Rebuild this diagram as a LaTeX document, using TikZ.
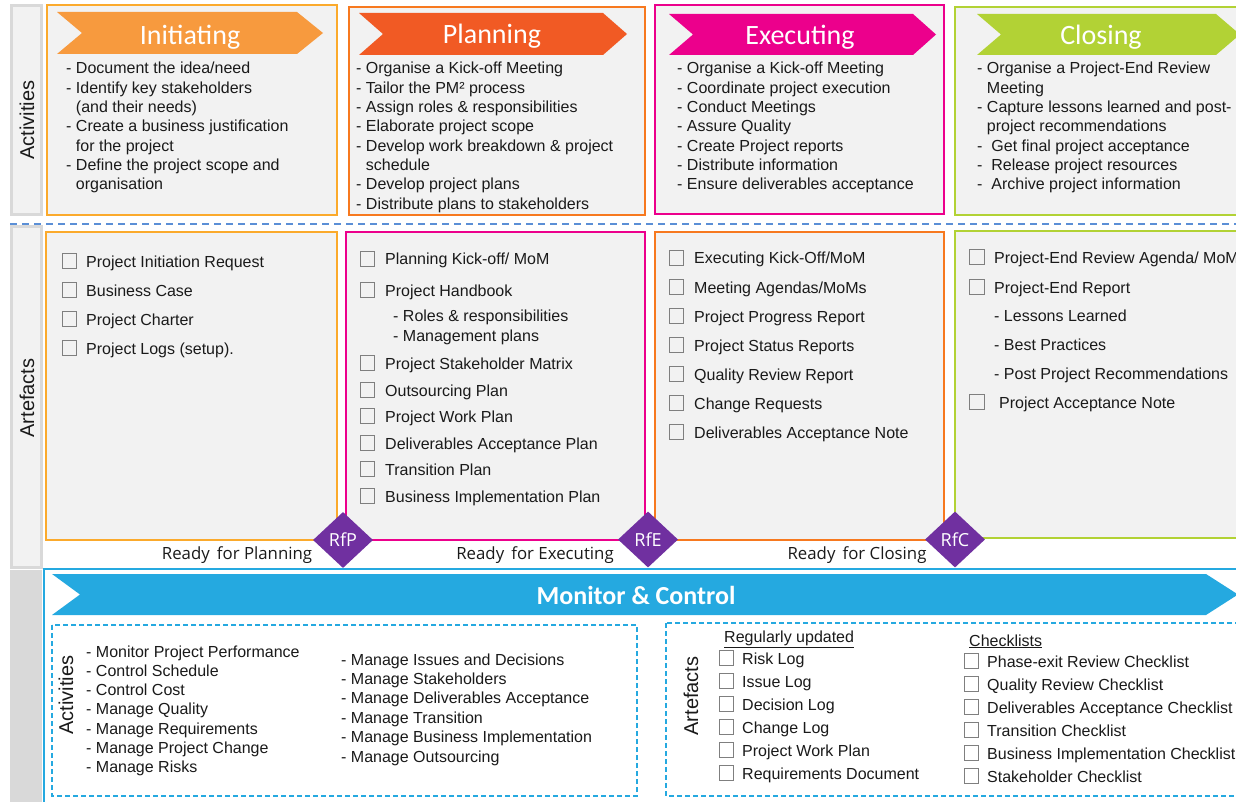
\documentclass[tikz,border=0pt]{standalone}
\usepackage{fontspec}
\setmainfont{Liberation Sans}
\newfontfamily\headfont{Carlito}
\newfontfamily\segfont{Open Sans}
\usetikzlibrary{shapes.geometric}
\definecolor{cInit}{HTML}{F79A3E}
\definecolor{cInitB}{HTML}{FBAA2C}
\definecolor{cPlan}{HTML}{F15A24}
\definecolor{cPlanB}{HTML}{F7791F}
\definecolor{cExec}{HTML}{EC008C}
\definecolor{cClose}{HTML}{B2D235}
\definecolor{cMC}{HTML}{25A9E0}
\definecolor{cDia}{HTML}{7030A0}
\definecolor{cBg}{HTML}{F2F2F2}
\definecolor{cStrip}{HTML}{D9D9D9}
\definecolor{cDash}{HTML}{5B8FD6}
\definecolor{cChk}{HTML}{7F7F7F}
\definecolor{tc}{HTML}{1A1A1A}
\begin{document}
\begin{tikzpicture}[x=1pt,y=-1pt,
  txt/.style={anchor=base west, inner sep=0pt, font=\fontsize{16}{19}\selectfont, text=tc},
  chk/.style={draw=cChk, line width=1pt, minimum size=14.5pt, inner sep=0pt},
  actbox/.style={fill=cBg, line width=2pt},
  chevtext/.style={text=white, font=\headfont\fontsize{28}{28}\selectfont, inner sep=0pt, anchor=base},
  rdy/.style={font=\segfont\fontsize{16.8}{17}\selectfont, text=tc, inner sep=0pt, anchor=base},
  dia/.style={diamond, fill=cDia, text=white, minimum width=60pt, minimum height=56pt, inner sep=0pt, font=\segfont\fontsize{18}{18}\selectfont},
  vlab/.style={rotate=90, font=\fontsize{20}{20}\selectfont, text=tc, inner sep=0pt},
  mcdash/.style={draw=cMC, dash pattern=on 5pt off 3pt, line width=1.3pt}
]
\useasboundingbox (0,0) rectangle (1236,802);
\fill[white] (0,0) rectangle (1236,802);

% left strips
\draw[cStrip, line width=3pt, fill=cBg] (11.5,5.5) rectangle (41.5,214.5);
\draw[cStrip, line width=3pt, fill=cBg] (11.5,226.5) rectangle (41.5,567);
\fill[cStrip] (10,570) rectangle (42,802);
\node[vlab] (actlab) at (27,120) {Activities};
\node[vlab] (artlab) at (27,398) {Artefacts};

% dashed separator
\draw[cDash, line width=1.5pt, dash pattern=on 7pt off 5pt] (10,224) -- (1236,224);

% activity boxes
\draw[actbox, draw=cInitB] (47,5) rectangle (337,215);
\draw[actbox, draw=cPlanB] (349,7) rectangle (645,215);
\draw[actbox, draw=cExec] (655,5) rectangle (944,214);
\draw[actbox, draw=cClose] (955,7) rectangle (1245,215);
% artefact boxes
\draw[actbox, draw=cInitB] (46,232) rectangle (337,540);
\draw[actbox, draw=cExec] (346,232) rectangle (645,540);
\draw[actbox, draw=cPlanB] (655,232) rectangle (944,540);
\draw[actbox, draw=cClose] (955,231) rectangle (1245,538);

% chevrons
\fill[cInit] (57,12) -- (297,12) -- (323,33) -- (297,54) -- (57,54) -- (82,33) -- cycle;
\fill[cPlan] (359,13) -- (603,13) -- (627,34) -- (603,55) -- (359,55) -- (383,34) -- cycle;
\fill[cExec] (669,14) -- (913,14) -- (936,34.5) -- (913,55) -- (669,55) -- (693,34.5) -- cycle;
\fill[cClose] (977,14) -- (1216,14) -- (1240,34.5) -- (1216,55) -- (977,55) -- (1001,34.5) -- cycle;
\node[chevtext] (hInit) at (190,44.5) {Initiating};
\node[chevtext] (hPlan) at (492,44) {Planning};
\node[chevtext] (hExec) at (800,45) {Executing};
\node[chevtext] (hClose) at (1101,44.5) {Closing};

% activities text
\foreach \t [count=\i] in {- Document the idea/need,- Identify key stakeholders,\phantom{- }(and their needs),- Create a business justification,\phantom{- }for the project,- Define the project scope and,\phantom{- }organisation}
  \node[txt] (ai\i) at (66,{68+6+19.33*(\i-1)}) {\t};
\foreach \t [count=\i] in {- Organise a Kick-off Meeting,- Tailor the PM² process,- Assign roles \& responsibilities,- Elaborate project scope,- Develop work breakdown \& project,\phantom{- }schedule,- Develop project plans,- Distribute plans to stakeholders}
  \node[txt] (ap\i) at (356,{68+6+19.29*(\i-1)}) {\t};
\foreach \t [count=\i] in {- Organise a Kick-off Meeting,- Coordinate project execution,- Conduct Meetings,- Assure Quality,- Create Project reports,- Distribute information,- Ensure deliverables acceptance}
  \node[txt] (ae\i) at (677,{68+6+19.33*(\i-1)}) {\t};
\foreach \t [count=\i] in {- Organise a Project-End Review,\phantom{- }Meeting,- Capture lessons learned and post-,\phantom{- }project recommendations,-\ \ Get final project acceptance,-\ \ Release project resources,-\ \ Archive project information}
  \node[txt] (ac\i) at (977,{68+6+19.33*(\i-1)}) {\t};

% artefacts: initiating
\foreach \t [count=\i] in {Project Initiation Request,Business Case,Project Charter,Project Logs (setup).}{
  \node[chk] (cbi\i) at (69.5,{261+29*(\i-1)}) {};
  \node[txt] (ri\i) at (86,{261+6+29*(\i-1)}) {\t};
}
% artefacts: planning
\foreach \y/\t [count=\i] in {259/{Planning Kick-off/ MoM},290/{Project Handbook},363/{Project Stakeholder Matrix},390/{Outsourcing Plan},416/{Project Work Plan},443/{Deliverables Acceptance Plan},469/{Transition Plan},496/{Business Implementation Plan}}{
  \node[chk] (cbp\i) at (367.5,\y) {};
  \node[txt] (rp\i) at (385,\y+6) {\t};
}
\node[txt] (rps1) at (393,321) {- Roles \& responsibilities};
\node[txt] (rps2) at (393,341) {- Management plans};
% artefacts: executing
\foreach \t [count=\i] in {Executing Kick-Off/MoM,Meeting Agendas/MoMs,Project Progress Report,Project Status Reports,Quality Review Report,Change Requests,Deliverables Acceptance Note}{
  \node[chk] (cbe\i) at (676.5,{258+29*(\i-1)}) {};
  \node[txt] (re\i) at (694,{258+6+29*(\i-1)}) {\t};
}
% artefacts: closing
\node[chk] (cbc1) at (977,257) {};
\node[txt] (rc1) at (994,263) {Project-End Review Agenda/ MoM};
\node[chk] (cbc2) at (977,287) {};
\node[txt] (rc2) at (994,293) {Project-End Report};
\node[txt] (rc3) at (994,321) {- Lessons Learned};
\node[txt] (rc4) at (994,350) {- Best Practices};
\node[txt] (rc5) at (994,379) {- Post Project Recommendations};
\node[chk] (cbc3) at (977,402) {};
\node[txt] (rc6) at (999,408) {Project Acceptance Note};

% gates
\node[dia] (rfp) at (343,540) {RfP};
\node[dia] (rfe) at (648,539.5) {RfE};
\node[dia] (rfc) at (955,539.5) {RfC};
\node[rdy] (lp) at (237,559) {Ready\ \,for Planning};
\node[rdy] (le) at (535,559) {Ready\ \,for Executing};
\node[rdy] (lc) at (857,559) {Ready\ \,for Closing};

% monitor & control
\draw[cMC, line width=2pt] (44,569) rectangle (1240,806);
\fill[cMC] (52,574) -- (1206,574) -- (1238,594.5) -- (1206,615) -- (52,615) -- (80,594.5) -- cycle;
\node[text=white, font=\headfont\bfseries\fontsize{26}{26}\selectfont, inner sep=0pt, anchor=base] (hmc) at (636,604) {Monitor \& Control};
\draw[mcdash] (52,625) rectangle (637,796);
\draw[mcdash] (666,623) rectangle (1240,796);
\node[vlab] (mcact) at (66,695) {Activities};
\node[vlab] (mcart) at (691,696) {Artefacts};
\foreach \t [count=\i] in {- Monitor Project Performance,- Control Schedule,- Control Cost,- Manage Quality,- Manage Requirements,- Manage Project Change,- Manage Risks}
  \node[txt] (ma\i) at (86,{651+6+19.33*(\i-1)}) {\t};
\foreach \t [count=\i] in {- Manage Issues and Decisions,- Manage Stakeholders,- Manage Deliverables Acceptance,- Manage Transition,- Manage Business Implementation,- Manage Outsourcing}
  \node[txt] (mb\i) at (341,{659+6+19.4*(\i-1)}) {\t};
\node[txt] (hru) at (724,642) {\underline{Regularly updated}};
\foreach \t [count=\i] in {Risk Log,Issue Log,Decision Log,Change Log,Project Work Plan,Requirements Document}{
  \node[chk] (cbm\i) at (726.5,{658+23*(\i-1)}) {};
  \node[txt] (mr\i) at (742,{658+6+23*(\i-1)}) {\t};
}
\node[txt] (hcl) at (969,646) {\underline{Checklists}};
\foreach \t [count=\i] in {Phase-exit Review Checklist,Quality Review Checklist,Deliverables Acceptance Checklist,Transition Checklist,Business Implementation Checklist,Stakeholder Checklist}{
  \node[chk] (cbk\i) at (971.5,{661+23*(\i-1)}) {};
  \node[txt] (mk\i) at (987,{661+6+23*(\i-1)}) {\t};
}
\end{tikzpicture}
\end{document}
